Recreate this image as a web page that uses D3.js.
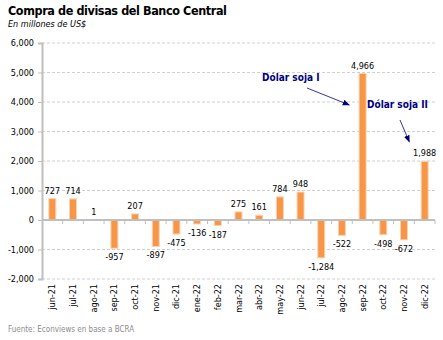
<!DOCTYPE html>
<html>
<head>
<meta charset="utf-8">
<script src="https://cdn.jsdelivr.net/npm/d3@7"></script>
<style>
  body { margin: 0; background: #fff; }
  text { font-family: "DejaVu Sans Condensed", "DejaVu Sans", sans-serif; }
</style>
</head>
<body>
<div id="chart"></div>
<script>
// data
var months = ["jun-21","jul-21","ago-21","sep-21","oct-21","nov-21","dic-21","ene-22","feb-22",
  "mar-22","abr-22","may-22","jun-22","jul-22","ago-22","sep-22","oct-22","nov-22","dic-22"];
var values = [727, 714, 1, -957, 207, -897, -475, -136, -187, 275, 161, 784, 948, -1284, -522, 4966, -498, -672, 1988];
var yTicks = [-2000, -1000, 0, 1000, 2000, 3000, 4000, 5000, 6000];

var svgWidth = 443, svgHeight = 340;
var margin = { top: 43, right: 8, bottom: 61, left: 42 };

var svg = d3.select("#chart").append("svg")
  .attr("width", svgWidth)
  .attr("height", svgHeight);

var x = d3.scaleBand()
  .domain(months)
  .range([margin.left, svgWidth - margin.right]);

var y = d3.scaleLinear()
  .domain([-2000, 6000])
  .range([svgHeight - margin.bottom, margin.top]);

// plain hyphen for negatives, like the original
var fmt = d3.formatLocale({ decimal: ".", thousands: ",", grouping: [3], currency: ["$", ""], minus: "-" }).format(",");

// title
svg.append("text").attr("x", 8).attr("y", 15)
  .attr("font-size", 12.5).attr("font-weight", "bold").attr("fill", "#000")
  .attr("letter-spacing", -0.4)
  .text("Compra de divisas del Banco Central");
svg.append("text").attr("x", 8).attr("y", 27)
  .attr("font-size", 9).attr("font-style", "italic").attr("fill", "#000")
  .text("En millones de US$");

// gridlines
svg.append("g").selectAll("line").data(yTicks.filter(d => d != 0)).enter().append("line")
  .attr("x1", margin.left).attr("x2", svgWidth - margin.right)
  .attr("y1", d => y(d)).attr("y2", d => y(d))
  .attr("stroke", "#d0d0d0").attr("stroke-dasharray", "3,2").attr("stroke-width", 1);

// y axis
var yAxis = svg.append("g")
  .attr("transform", "translate(" + margin.left + ",0)")
  .call(d3.axisLeft(y).tickValues(yTicks).tickFormat(fmt).tickSize(4).tickPadding(4));
yAxis.select(".domain").attr("stroke", "#bfbfbf").attr("stroke-width", 2);
yAxis.selectAll(".tick line").attr("stroke", "#bfbfbf");
yAxis.selectAll("text").attr("font-size", 9).attr("fill", "#000")
  .style("font-family", "'DejaVu Sans Condensed', 'DejaVu Sans', sans-serif");

// bars
svg.append("g").selectAll("rect").data(values).enter().append("rect")
  .attr("x", (d, i) => x(months[i]) + x.bandwidth() / 2 - 3.5)
  .attr("width", 7)
  .attr("y", d => y(Math.max(0, d)))
  .attr("height", d => Math.abs(y(d) - y(0)))
  .attr("fill", "#f79646")
  .attr("stroke", "#fbd3b4").attr("stroke-width", 1);

// x axis at zero
svg.append("line")
  .attr("x1", margin.left).attr("x2", svgWidth - margin.right)
  .attr("y1", y(0)).attr("y2", y(0))
  .attr("stroke", "#bfbfbf").attr("stroke-width", 2);
svg.append("g").selectAll("line").data(months).enter().append("line")
  .attr("x1", d => x(d) + x.bandwidth()).attr("x2", d => x(d) + x.bandwidth())
  .attr("y1", y(0)).attr("y2", y(0) + 4)
  .attr("stroke", "#bfbfbf");

// data labels
svg.append("g").selectAll("text").data(values).enter().append("text")
  .attr("x", (d, i) => x(months[i]) + x.bandwidth() / 2)
  .attr("y", d => d >= 0 ? y(d) - 5 : y(d) + 12)
  .attr("text-anchor", "middle")
  .attr("font-size", 9).attr("fill", "#000")
  .text(d => fmt(d));

// month labels (vertical)
svg.append("g").selectAll("text").data(months).enter().append("text")
  .attr("transform", d => "translate(" + (x(d) + x.bandwidth() / 2 + 3) + "," + (y(-2000) + 5) + ") rotate(-90)")
  .attr("text-anchor", "end")
  .attr("font-size", 9).attr("fill", "#000")
  .text(d => d);

// annotations
var navy = "#000080";
svg.append("defs").append("marker")
  .attr("id", "arrow").attr("viewBox", "0 0 10 10")
  .attr("refX", 9).attr("refY", 5)
  .attr("markerWidth", 9).attr("markerHeight", 9)
  .attr("orient", "auto")
  .append("path").attr("d", "M0,1 L10,5 L0,9 z").attr("fill", navy);

svg.append("text").attr("x", 262).attr("y", 81)
  .attr("font-size", 10).attr("font-weight", "bold").attr("fill", navy)
  .text("Dólar soja I");
svg.append("line")
  .attr("x1", 307).attr("y1", 88).attr("x2", x("sep-22") - 3).attr("y2", y(3900))
  .attr("stroke", navy).attr("stroke-width", 0.8).attr("marker-end", "url(#arrow)");

svg.append("text").attr("x", 367).attr("y", 108)
  .attr("font-size", 10).attr("font-weight", "bold").attr("fill", navy)
  .text("Dólar soja II");
svg.append("line")
  .attr("x1", 400).attr("y1", 120).attr("x2", x("dic-22") - 5).attr("y2", y(2650))
  .attr("stroke", navy).attr("stroke-width", 0.8).attr("marker-end", "url(#arrow)");

// source
svg.append("text").attr("x", 8).attr("y", 332)
  .attr("font-size", 8).attr("fill", "#8c8c8c")
  .text("Fuente: Econviews en base a BCRA");
</script>
</body>
</html>
